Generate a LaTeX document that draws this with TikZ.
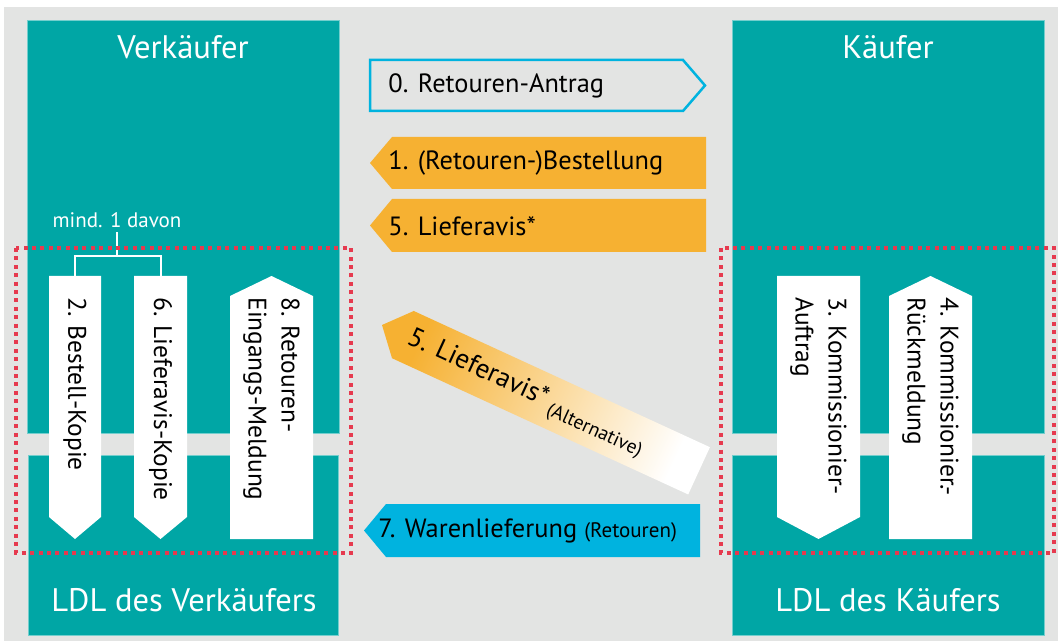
\documentclass[tikz,border=0pt]{standalone}
\usepackage{fontspec}
\setmainfont{PT Sans}

\definecolor{bggray}{HTML}{E3E4E3}
\definecolor{petrol}{HTML}{00A6A5}
\definecolor{goldorange}{HTML}{F6B132}
\definecolor{skyblue}{HTML}{00B3DF}
\definecolor{dotred}{HTML}{E63A4F}

\tikzset{
  panel/.style={fill=petrol, draw=petrol!55!white, line width=0.4pt},
  paneltitle/.style={text=white, inner sep=0pt, font=\fontsize{16.3}{19}\selectfont},
  docbox/.style={fill=white},
  doctext/.style={rotate=-90, anchor=west, inner sep=0pt, align=left,
    font=\fontsize{12.7}{16.5}\selectfont},
  flowtext/.style={anchor=west, inner sep=0pt, font=\fontsize{13.2}{15}\selectfont},
  zone/.style={draw=dotred, line width=1.75pt, dash pattern=on 2pt off 2.2pt},
  bracket/.style={draw=white, line width=1pt},
}

\begin{document}
\begin{tikzpicture}[x=0.5pt, y=-0.5pt]
    \useasboundingbox (0,0) rectangle (1058,641);
    % Background
    \fill[white] (0,0) rectangle (1058,641);
    \fill[bggray] (4,7) rectangle (1058,641);

    % Panels seller / buyer
    \draw[panel] (27,20) rectangle (339,433);
    \draw[panel] (28,455) rectangle (338,635);
    \draw[panel] (732,20) rectangle (1044,433);
    \draw[panel] (732,455) rectangle (1044,635);

    \node[paneltitle] (verk) at (183,47) {Verkäufer};
    \node[paneltitle] (kauf) at (888,47) {Käufer};
    \node[paneltitle] (ldlverk) at (184,600) {LDL des Verkäufers};
    \node[paneltitle] (ldlkauf) at (888,600) {LDL des Käufers};

    % Documents seller side
    \fill[docbox] (49,276) -- (101,276) -- (101,517) -- (75,539) -- (49,517) -- cycle;
    \fill[docbox] (134,276) -- (187,276) -- (187,517) -- (160.5,539) -- (134,517) -- cycle;
    \fill[docbox] (230,296) -- (271.5,276) -- (313,296) -- (313,539) -- (230,539) -- cycle;
    \node[doctext] (kopie2) at (75,297) {2. Bestell-Kopie};
    \node[doctext] (kopie6) at (160.5,297) {6. Lieferavis-Kopie};
    \node[doctext] (meldung8) at (271.5,297) {8. Retouren-\\Eingangs-Meldung};

    % mind. 1 davon
    \node[text=white, inner sep=0pt, font=\fontsize{10.5}{12}\selectfont] (davon) at (117,220) {mind. 1 davon};
    \coordinate (k2) at (75,276);
    \coordinate (k6) at (160.5,276);
    \coordinate (kmid) at (117,256);
    \draw[bracket] (k2) |- (kmid) -| (k6);
    \draw[bracket] (davon.south) ++(0,4) -- (kmid);

    % Documents buyer side
    \fill[docbox] (777,276) -- (860,276) -- (860,517) -- (818.5,539) -- (777,517) -- cycle;
    \fill[docbox] (889,296) -- (930.5,276) -- (972,296) -- (972,539) -- (889,539) -- cycle;
    \node[doctext] (auftrag3) at (818.5,297) {3. Kommissionier-\\Auftrag};
    \node[doctext] (rueck4) at (930.5,297) {4. Kommissionier.-\\Rückmeldung};

    % Dotted zones
    \draw[zone] (16,248) rectangle (351,553);
    \draw[zone] (721,248) rectangle (1054,553);

    % Messages
    \draw[skyblue, line width=1.25pt, line join=miter] (370,60) -- (683,60) -- (705,85.5) -- (683,111) -- (370,111) -- cycle;
    \node[flowtext] (antrag) at (388,86) {0. Retouren-Antrag};

    \fill[goldorange] (370,163) -- (392,137) -- (706,137) -- (706,189) -- (392,189) -- cycle;
    \node[flowtext] (bestellung) at (388,163) {1. (Retouren-)Bestellung};

    \fill[goldorange] (370,225.5) -- (392,199) -- (706,199) -- (706,252) -- (392,252) -- cycle;
    \node[flowtext] (avis) at (388,226) {5. Lieferavis*};

    \begin{scope}[shift={(382,325)}, rotate=-24.7]
        \shade[left color=goldorange, right color=white, shading angle=65.3]
            (0,0) -- (23,-26) -- (349,-26) -- (349,26) -- (23,26) -- cycle;
        \node[flowtext, rotate=-24.7, font=\fontsize{13.6}{15}\selectfont] (avisalt) at (29,2)
            {5. Lieferavis*\,\raisebox{-0.45ex}{\fontsize{9.8}{11}\selectfont(Alternative)}};
    \end{scope}

    \fill[skyblue] (364,530.5) -- (386,504) -- (700,504) -- (700,557) -- (386,557) -- cycle;
    \node[flowtext] (lieferung) at (378,531) {7. Warenlieferung {\fontsize{10.5}{12}\selectfont(Retouren)}};
\end{tikzpicture}
\end{document}
